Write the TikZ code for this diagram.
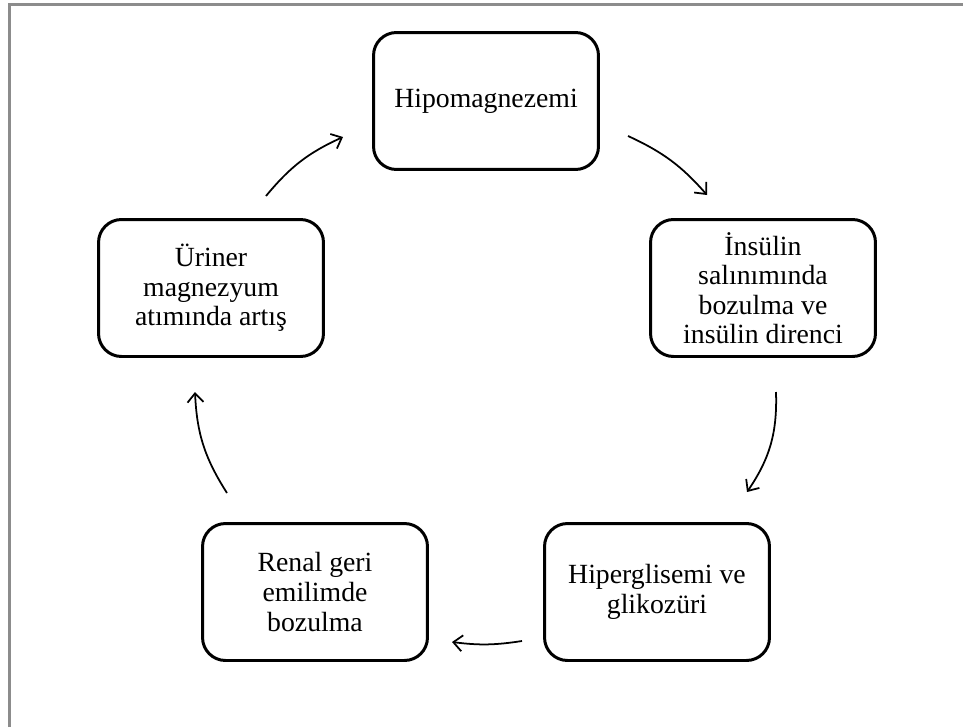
\documentclass[tikz,border=0pt]{standalone}
\usepackage{fontspec}
\setmainfont{Liberation Serif}
\usepackage{xcolor}
\definecolor{framegray}{HTML}{8C8C8C}
\usetikzlibrary{arrows.meta}
\tikzset{
  cbox/.style ={rectangle, rounded corners=0.46cm, draw=black, line width=1.7pt, fill=white,
                align=center, minimum width=4.5cm, minimum height=2.74cm, font=\fontsize{15.8}{16.8}\selectfont},
  carr/.style ={-{Straight Barb[length=1.8mm, width=3.2mm]}, line width=1pt, color=black},
  pframe/.style={draw=framegray, line width=1.2pt},
}

\begin{document}
\begin{tikzpicture}[x=0.02cm, y=-0.02cm]
  \useasboundingbox (0,0) rectangle (963,727);
  \draw[pframe] (9.5,727) -- (9.5,4.5) -- (963,4.5);
  % cycle boxes
  \node[cbox] (hypo) at (486,101) {Hipomagnezemi};
  \node[cbox] (insu) at (763,288) {İnsülin\\salınımında\\bozulma ve\\insülin direnci};
  \node[cbox] (hgly) at (657,592) {Hiperglisemi ve\\glikozüri};
  \node[cbox] (rena) at (315,592) {Renal geri\\emilimde\\bozulma};
  \node[cbox] (urin) at (211,288) {Üriner\\magnezyum\\atımında artış};
  % arrow ends
  \coordinate (a1s) at (628,136); \coordinate (a1e) at (707,195);
  \coordinate (a2s) at (776,392); \coordinate (a2e) at (747,492);
  \coordinate (a3s) at (522,641); \coordinate (a3e) at (452,642);
  \coordinate (a4s) at (227,493); \coordinate (a4e) at (195,392);
  \coordinate (a5s) at (266,196); \coordinate (a5e) at (343,137);
  \foreach \s/\e/\b in {a1s/a1e/12, a2s/a2e/18, a3s/a3e/8, a4s/a4e/15, a5s/a5e/13}
    \draw[carr] (\s) to[bend left=\b] (\e);
\end{tikzpicture}
\end{document}
